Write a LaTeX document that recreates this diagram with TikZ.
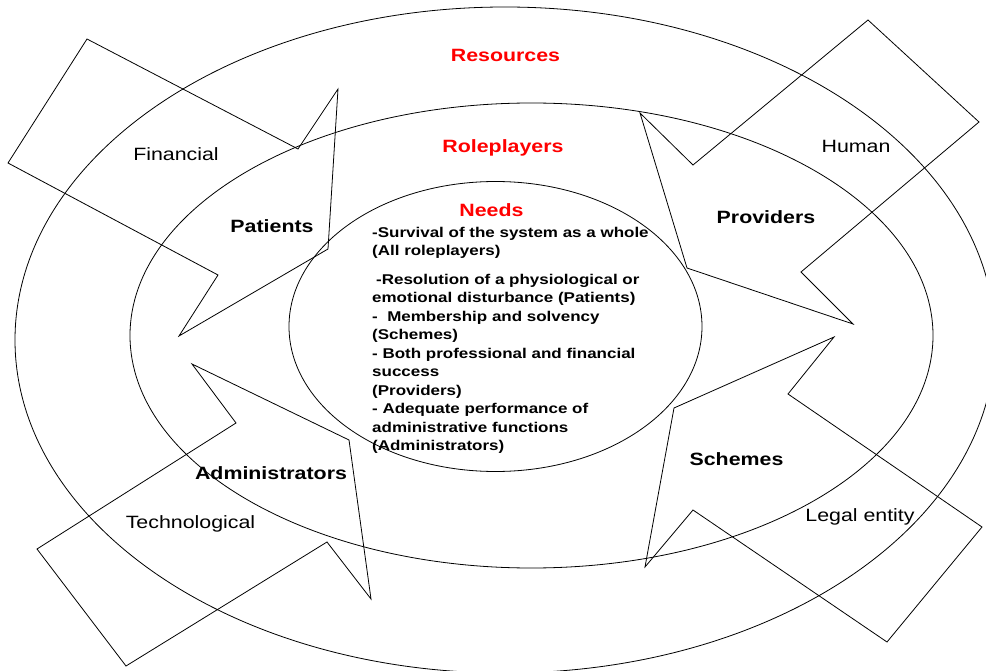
\documentclass[tikz,border=0pt]{standalone}
\usepackage{fontspec}
\setmainfont{Liberation Sans}[FakeStretch=1.2]
\usetikzlibrary{positioning}
\definecolor{ink}{HTML}{000000}
\definecolor{headred}{HTML}{FF0000}

\begin{document}
\begin{tikzpicture}[x=1pt,y=-1pt,
  ring/.style={draw=ink,line width=0.8pt},
  bentarrow/.style={draw=ink,line width=0.8pt,line join=miter},
  heading/.style={font=\fontsize{17.8}{21}\selectfont\bfseries,text=headred,inner sep=0pt,anchor=base},
  player/.style={font=\fontsize{17.8}{21}\selectfont\bfseries,text=ink,inner sep=0pt,anchor=base},
  resource/.style={font=\fontsize{17.8}{21}\selectfont,text=ink,inner sep=0pt,anchor=base},
  needtext/.style={font=\fontsize{14.15}{18.5}\selectfont\bfseries,text=ink,align=left,inner sep=0pt,anchor=north west}
]
\useasboundingbox (0,0) rectangle (986,671);

% three rings
\draw[ring] (505,340) ellipse [x radius=490pt, y radius=333pt];
\draw[ring] (531.5,335.5) ellipse [x radius=401.5pt, y radius=232.5pt];
\draw[ring] (495.5,326.5) ellipse [x radius=206.5pt, y radius=145pt];

% bent arrows
\draw[bentarrow] (87,39) -- (8,163) -- (218,275) -- (179,336) -- (328,249) -- (338,89) -- (298,149) -- cycle;
\draw[bentarrow] (868,20) -- (979,122) -- (801,272) -- (853,324) -- (687,268) -- (640,113) -- (693,165) -- cycle;
\draw[bentarrow] (192,364) -- (236,423) -- (37,549) -- (126,666) -- (327,542) -- (371,599) -- (349,440) -- cycle;
\draw[bentarrow] (834,337) -- (788,394) -- (982,527) -- (887,642) -- (693,510) -- (645,567) -- (674,408) -- cycle;

% ring titles
\node[heading] (res) at (505.5,62) {Resources};
\node[heading] (role) at (503,152.5) {Roleplayers};
\node[heading] (needs) at (491.5,217) {Needs};

% resources
\node[resource] (fin) at (176,161) {Financial};
\node[resource] (hum) at (856,153) {Human};
\node[resource] (tech) at (190.5,528) {Technological};
\node[resource] (legal) at (860,521) {Legal entity};

% roleplayers
\node[player] (pat) at (272,233) {Patients};
\node[player] (prov) at (766,224) {Providers};
\node[player] (adm) at (271,479) {Administrators};
\node[player] (sch) at (736.5,465) {Schemes};

% needs
\node[needtext] (needlist) at (372,227) {-Survival of the system as a whole\\
(All roleplayers)\\[10pt]
\hspace{4pt}-Resolution of a physiological or\\
emotional disturbance (Patients)\\
-\ \ Membership and solvency\\
(Schemes)\\
- Both professional and financial\\
success\\
(Providers)\\
- Adequate performance of\\
administrative functions\\
(Administrators)};
\end{tikzpicture}
\end{document}
